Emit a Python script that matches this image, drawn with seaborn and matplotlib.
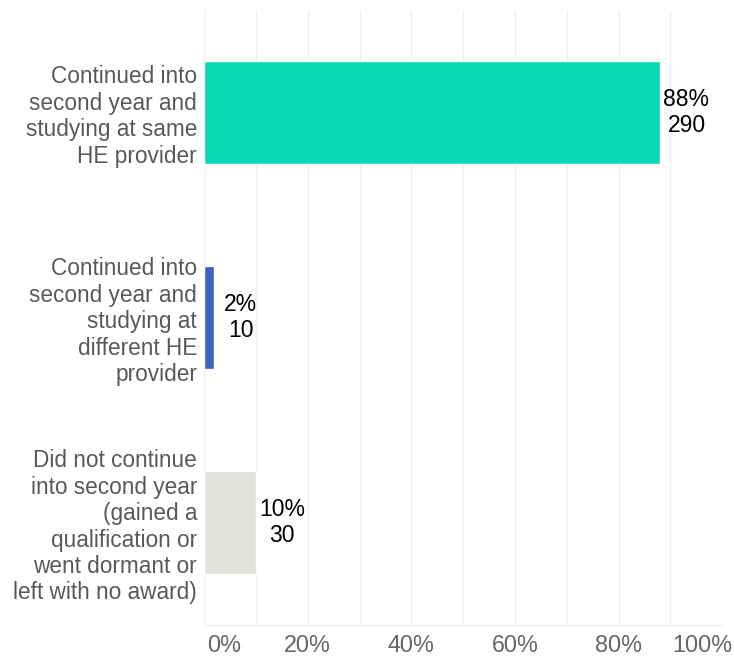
import matplotlib.pyplot as plt
import matplotlib.transforms as mtransforms
import pandas as pd
import seaborn as sns

categories = [
    "Continued into\nsecond year and\nstudying at same\nHE provider",
    "Continued into\nsecond year and\nstudying at\ndifferent HE\nprovider",
    "Did not continue\ninto second year\n(gained a\nqualification or\nwent dormant or\nleft with no award)",
]
percentages = [88, 2, 10]
counts = [290, 10, 30]
bar_colors = ["#07dab4", "#3d62c0", "#e3e1dc"]
x_ticks = [0, 20, 40, 60, 80, 100]

sns.set_theme(style="white")
plt.rcParams["font.family"] = ["Liberation Sans", "DejaVu Sans"]

df = pd.DataFrame({"category": categories, "pct": percentages, "count": counts})

fig = plt.figure(figsize=(7.34, 6.56), dpi=100)
ax = fig.add_axes([0.278, 0.047, 0.706, 0.938])

sns.barplot(
    data=df, x="pct", y="category", hue="category", palette=bar_colors,
    orient="h", width=0.5, saturation=1, legend=False, ax=ax,
)

ax.set_xlim(0, 100)
ax.set_ylim(2.5, -0.5)
ax.grid(axis="x", color="#efefef", linewidth=1)
ax.set_axisbelow(True)
for name, s in ax.spines.items():
    if name == "bottom":
        s.set_color("#efefef")
        s.set_linewidth(1)
    else:
        s.set_visible(False)

ax.set_xticks(range(0, 101, 10))
ax.set_xticklabels([f"{t}%" if t in x_ticks else "" for t in range(0, 101, 10)])
ax.tick_params(axis="x", length=5, color="#efefef", labelsize=16.8, labelcolor="#666666", pad=1)
ax.tick_params(axis="y", length=0, labelsize=16.3, labelcolor="#595959", pad=5)
labels = ax.get_xticklabels()
labels[0].set_horizontalalignment("left")
labels[0].set_transform(labels[0].get_transform()
                        + mtransforms.ScaledTranslation(0.03, 0, fig.dpi_scale_trans))
labels[-1].set_horizontalalignment("right")
labels[-1].set_transform(labels[-1].get_transform()
                         + mtransforms.ScaledTranslation(0.10, 0, fig.dpi_scale_trans))
ax.set_xlabel("")
ax.set_ylabel("")
for lbl in ax.get_yticklabels():
    lbl.set_linespacing(1.19)

for i, (p, c) in enumerate(zip(percentages, counts)):
    ax.annotate(f"{p}%\n{c}", xy=(p, i), xytext=(19, 0), textcoords="offset points",
                ha="center", va="center", fontsize=16.5, color="black", linespacing=1.18)

fig.savefig("out.png", dpi=100)
